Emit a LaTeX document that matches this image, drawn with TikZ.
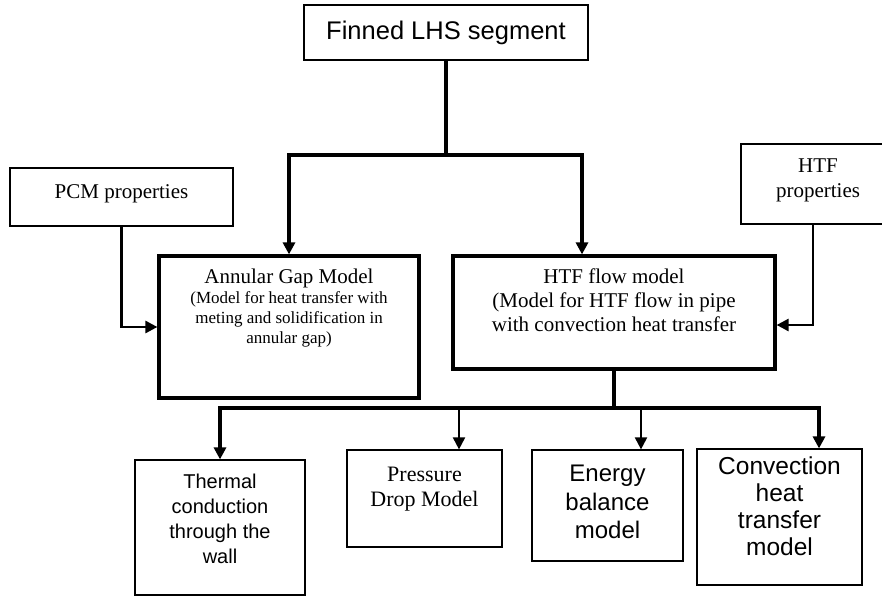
\documentclass[tikz,border=0pt]{standalone}
\usepackage{fontspec}
\setmainfont{Liberation Serif}
\setsansfont{Liberation Sans}
\usetikzlibrary{arrows.meta,positioning}

\begin{document}
\begin{tikzpicture}[
            x=1pt, y=-1pt,
            box/.style={draw, line width=1.2pt, inner sep=0pt},
            modelbox/.style={draw, line width=3.2pt, inner sep=0pt},
            txt/.style={anchor=north, align=center, inner sep=0pt},
            trunk/.style={line width=4pt},
            feed/.style={line width=2.6pt},
            tip/.style={-{Triangle[width=12pt,length=12pt]}},
        ]
            \useasboundingbox (0,0) rectangle (882,596);

            % segment on top
            \node [box, minimum width=284pt, minimum height=55pt,
                font=\sffamily\fontsize{25.5}{30}\selectfont] (finned) at (446,32.5) {Finned LHS segment};

            % property inputs
            \node [box, minimum width=223pt, minimum height=58pt] (pcm) at (121.5,197) {};
            \node [txt, font=\fontsize{21}{25}\selectfont] (pcmtext) at (121.5,184) {PCM properties};
            \node [box, minimum width=154pt, minimum height=80pt] (htfprop) at (818,184) {};
            \node [txt, font=\fontsize{21}{25}\selectfont] (htfproptext) at (818,159) {HTF\\properties};

            % the two models
            \node [modelbox, minimum width=260pt, minimum height=142pt] (annular) at (289,327) {};
            \node [txt, font=\fontsize{17}{20}\selectfont] (annulartext) at (289,269)
                {{\fontsize{21}{20}\selectfont Annular Gap Model}\\(Model for heat transfer with\\meting and solidification in\\annular gap)};
            \node [modelbox, minimum width=322pt, minimum height=113pt] (htf) at (614,312.5) {};
            \node [txt, font=\fontsize{21}{24}\selectfont] (htftext) at (614,269)
                {HTF flow model\\(Model for HTF flow in pipe\\with convection heat transfer};

            % sub models
            \node [box, minimum width=170pt, minimum height=135pt] (thermal) at (220,527.5) {};
            \node [txt, font=\sffamily\fontsize{20}{25}\selectfont] (thermaltext) at (220,474)
                {Thermal\\conduction\\through the\\wall};
            \node [box, minimum width=155pt, minimum height=97pt] (pressure) at (424.5,498.5) {};
            \node [txt, font=\fontsize{22}{25}\selectfont] (pressuretext) at (424.5,467)
                {Pressure\\Drop Model};
            \node [box, minimum width=151pt, minimum height=111pt] (energy) at (607.5,505.5) {};
            \node [txt, font=\sffamily\fontsize{24}{28.5}\selectfont] (energytext) at (607.5,465)
                {Energy\\balance\\model};
            \node [box, minimum width=165pt, minimum height=136pt] (convection) at (779.5,517) {};
            \node [txt, font=\sffamily\fontsize{24.5}{26.7}\selectfont] (convectiontext) at (779.5,457)
                {Convection\\heat\\transfer\\model};

            % connectors
            \coordinate (fork) at (446,155);
            \draw [trunk] (finned.south) -- (fork);
            \draw [trunk, tip] (fork) -| (annular.north);
            \draw [trunk, tip] (fork) -| ([xshift=-32pt]htf.north);
            \draw [feed, tip] (pcm.south) |- (annular.west);
            \draw [feed, tip] ([xshift=-5pt]htfprop.south) |- ([yshift=-12.5pt]htf.east);

            \coordinate (bus) at (614,408);
            \draw [trunk] (htf.south) -- (bus);
            \draw [trunk, tip] (bus) -| (thermal.north);
            \draw [trunk, tip] (bus) -| ([xshift=39.5pt]convection.north);
            \draw [line width=2pt, tip] ([xshift=34.5pt]pressure.north |- bus) -- ([xshift=34.5pt]pressure.north);
            \draw [line width=2pt, tip] ([xshift=33.5pt]energy.north |- bus) -- ([xshift=33.5pt]energy.north);
        \end{tikzpicture}
\end{document}
